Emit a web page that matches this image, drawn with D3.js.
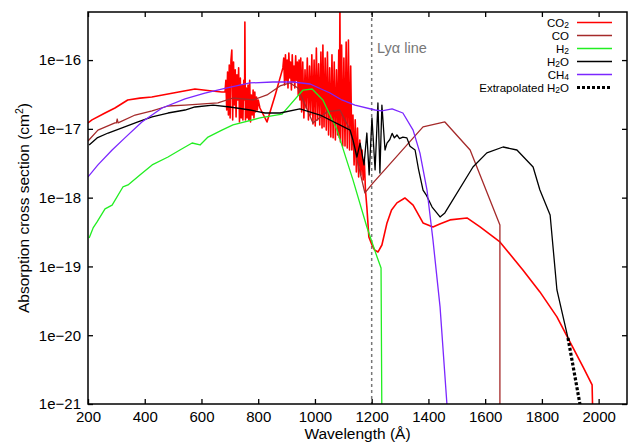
<!DOCTYPE html>
<html><head><meta charset="utf-8">
<script src="https://cdn.jsdelivr.net/npm/d3@7"></script>
<style>
body{margin:0;background:#fff}
svg{display:block}
text{font-family:"Liberation Sans",Arial,Helvetica,sans-serif}
</style>
</head><body>
<svg id="chart" width="630" height="442"></svg>
<script>
// ---------- data ----------
const xTicks = [200,400,600,800,1000,1200,1400,1600,1800,2000];
const yTicks = [1e-16,1e-17,1e-18,1e-19,1e-20,1e-21];
const yTickLabels = ["1e\u221216","1e\u221217","1e\u221218","1e\u221219","1e\u221220","1e\u221221"];

const co2Wl = [200,214,260,295,340,383,425,496,577,637,672,
  683,686,689,692,695,698,701,704,707,710,713,716,719,722,725,728,731,734,737,740,743,746,749,752,753,755,758,761,764,767,770,773,776,779,782,785,788,791,794,797,800,806,831,860,
  887,890,893,896,899,902,905,908,911,914,917,920,923,926,929,932,935,938,941,944,947,950,
  953,957,961,965,969,973,977,981,985,989,993,997,1001,1005,1009,1013,1017,1021,1025,1028,1032,1036,1040,1044,
  1048,1052,1056,1060,1064,1068,1072,1076,1080,1084,1086,1088,1090,1094,1098,1102,1106,1110,1114,1118,1122,1126,1130,
  1134,1138,1142,1146,1150,1154,1158,1162,1166,1170,1174,1178,1183,1190,1201,1210,1222,1236,1254,1270,1289,1317,1346,1381,1416,1440,1476,1536,1582,1652,1733,1793,1853,1892,1945,1977,1980];
const co2Val = [1.22e-17,1.35e-17,1.7e-17,2.01e-17,2.63e-17,2.8e-17,2.91e-17,3.3e-17,3.8e-17,3.55e-17,3.43e-17,
  3.43e-17,5.1e-17,1.88e-17,6.7e-17,1.59e-17,8.5e-17,1.44e-17,1.0e-16,1.4e-16,1.35e-17,9.4e-17,2.22e-17,7.2e-17,1.49e-17,6.1e-17,2.63e-17,7.7e-17,1.26e-17,5.5e-17,1.44e-17,4.35e-17,1.35e-17,5.1e-17,2.63e-17,3.58e-16,1.35e-17,3.93e-17,1.44e-17,4.35e-17,1.35e-17,5.1e-17,1.26e-17,3.11e-17,1.59e-17,3.67e-17,1.44e-17,3.43e-17,1.76e-17,2.91e-17,1.88e-17,2.63e-17,2.01e-17,1.26e-17,3.11e-17,
  7.7e-17,1.07e-16,4.35e-17,1.19e-16,5.1e-17,1.0e-16,3.93e-17,1.27e-16,5.5e-17,9.4e-17,3.67e-17,1.19e-16,4.8e-17,8.2e-17,3.93e-17,1.15e-16,5.1e-17,9.4e-17,3.11e-17,1.0e-16,2.63e-17,1.07e-16,
  1.76e-17,9.4e-17,1.44e-17,7.2e-17,2.01e-17,1.07e-16,1.35e-17,8.2e-17,1.59e-17,1.19e-16,1.18e-17,1.0e-16,1.1e-17,1.5e-16,1.35e-17,8.8e-17,1.14e-17,1.31e-16,1.03e-17,1.66e-16,1.07e-17,1.07e-16,9.6e-18,1.31e-16,
  8.15e-18,7.7e-17,7.6e-18,1.19e-16,7.4e-18,9.4e-17,6.9e-18,7.2e-17,8.15e-18,1.4e-16,7.4e-18,6.0e-16,6.45e-18,1.66e-16,5.64e-18,1.07e-16,5.64e-18,1.83e-16,5.27e-18,1.96e-16,4.93e-18,8.2e-17,4.93e-18,
  1.59e-17,2.99e-18,1.35e-17,2.36e-18,1.03e-17,2.0e-18,6.9e-18,2.14e-18,4.93e-18,1.81e-18,3.53e-18,1.29e-18,7.3e-19,2.69e-19,2.05e-19,1.74e-19,1.62e-19,2.05e-19,4.29e-19,6.6e-19,8.4e-19,9.9e-19,7.8e-19,4.29e-19,3.75e-19,4.15e-19,4.75e-19,5.07e-19,3.75e-19,2.27e-19,8.9e-20,4.26e-20,1.85e-20,9.1e-21,3.46e-21,1.89e-21,5e-22];

const coWl  = [200,235,295,300,303,306,366,426,482,542,658,711,782,831,877,912,940,993,1042,1088,1124,1176,1205,1381,1458,1547,1652,1652];
const coVal = [6.67e-18,9.6e-18,1.22e-17,1.22e-17,1.39e-17,1.22e-17,1.59e-17,1.82e-17,2.15e-17,2.22e-17,2.38e-17,2.81e-17,2.63e-17,3.11e-17,4.2e-17,4.65e-17,3.93e-17,1.22e-17,1.76e-17,1.88e-17,9.6e-18,1.17e-18,1.64e-18,1.07e-17,1.26e-17,4.93e-18,4.0e-19,5e-22];

const h2Wl  = [204,218,232,260,285,323,341,383,426,482,524,567,595,623,672,711,806,884,958,990,1028,1078,1134,1183,1219,1233,1236];
const h2Val = [2.6e-19,3.63e-19,4.44e-19,6.86e-19,7.8e-19,1.43e-18,1.53e-18,2.14e-18,2.99e-18,3.9e-18,4.93e-18,6.23e-18,5.83e-18,7.6e-18,9.6e-18,1.14e-17,1.44e-17,1.64e-17,3.67e-17,3.8e-17,2.63e-17,9.6e-18,1.81e-18,3.75e-19,1.37e-19,9.5e-20,5e-22];

const h2oWl  = [204,232,271,320,376,426,482,542,577,641,700,771,824,877,947,1018,1124,1134,1148,1159,1173,1183,1191,1201,1212,1222,1229,1236,1247,1254,1264,1272,1280,1289,1298,1310,1324,1335,1353,1365,1381,1392,1413,1441,1458,1557,1606,1663,1712,1769,1793,1829,1853,1892];
const h2oVal = [5.83e-18,7.38e-18,8.7e-18,1.03e-17,1.26e-17,1.49e-17,1.7e-17,1.88e-17,2.08e-17,2.22e-17,2.08e-17,1.88e-17,1.7e-17,1.7e-17,1.95e-17,1.59e-17,9.6e-18,6.9e-18,3.9e-18,6.2e-18,3.0e-18,8.7e-18,2.14e-18,1.44e-17,2.53e-18,2.38e-17,2.28e-18,2.22e-17,4.93e-18,6.2e-18,7.0e-18,8.6e-18,7.4e-18,8.15e-18,7.2e-18,7.6e-18,7.4e-18,5.6e-18,4.93e-18,2.6e-18,1.29e-18,1.1e-18,7.3e-19,5.24e-19,6.0e-19,2.79e-18,4.47e-18,5.45e-18,4.93e-18,2.79e-18,1.29e-18,5.6e-19,4.55e-20,9.1e-21];

const ch4Wl  = [200,235,285,330,390,461,542,612,690,771,852,923,983,1053,1095,1141,1212,1236,1272,1310,1346,1370,1395,1416,1441,1466];
const ch4Val = [2.0e-18,3.0e-18,4.93e-18,7.4e-18,1.26e-17,2.01e-17,2.72e-17,3.32e-17,3.93e-17,4.65e-17,4.8e-17,4.8e-17,4.49e-17,3.32e-17,2.63e-17,2.22e-17,1.88e-17,1.82e-17,1.95e-17,1.7e-17,9.6e-18,4.47e-18,1.29e-18,2.43e-19,2.58e-20,9e-22];

const extWl  = [1892,1936];
const extVal = [9.1e-21,9e-22];

const lyaWl = 1200;

// ---------- drawing ----------
const svg = d3.select("#chart");
const L=88, R=627, T=12, B=404;
const x = d3.scaleLinear().domain([200,2100]).range([L,R]);
const y = d3.scaleLog().domain([1e-21,5e-16]).range([B,T]);

svg.append("defs").append("clipPath").attr("id","clip")
  .append("rect").attr("x",L).attr("y",T).attr("width",R-L).attr("height",B-T);

const zip = (a,b)=>a.map((v,i)=>[v,b[i]]);
const line = d3.line().x(d=>x(d[0])).y(d=>y(d[1]));
const g = svg.append("g").attr("clip-path","url(#clip)");

// Lyman alpha line
g.append("line").attr("x1",x(lyaWl)).attr("x2",x(lyaWl)).attr("y1",T).attr("y2",B)
  .attr("stroke","#777").attr("stroke-width",1.5).attr("stroke-dasharray","3,3");

const styles = [
  {wl:co2Wl,val:co2Val,color:"#ff0000",w:1.6},
  {wl:coWl,val:coVal,color:"#a52a2a",w:1.3},
  {wl:h2Wl,val:h2Val,color:"#22ee22",w:1.3},
  {wl:h2oWl,val:h2oVal,color:"#000000",w:1.3},
  {wl:ch4Wl,val:ch4Val,color:"#7b27ff",w:1.3}
];
styles.forEach(s=>{
  g.append("path").datum(zip(s.wl,s.val)).attr("d",line)
    .attr("fill","none").attr("stroke",s.color).attr("stroke-width",s.w)
    .attr("stroke-linejoin","round");
});
g.append("path").datum(zip(extWl,extVal)).attr("d",line)
  .attr("fill","none").attr("stroke","#000").attr("stroke-width",3.2)
  .attr("stroke-dasharray","3,2");

// axes
const fs = "15px";
const ax = svg.append("g").attr("transform",`translate(0,${B})`)
  .call(d3.axisBottom(x).tickValues(xTicks).tickSize(-5).tickPadding(7).tickFormat(d3.format("d")));
const ay = svg.append("g").attr("transform",`translate(${L},0)`)
  .call(d3.axisLeft(y).tickValues(yTicks).tickSize(-5).tickPadding(7).tickFormat((d,i)=>yTickLabels[i]));
const axT = svg.append("g").attr("transform",`translate(0,${T})`)
  .call(d3.axisTop(x).tickValues(xTicks).tickSize(-5).tickFormat(""));
const ayR = svg.append("g").attr("transform",`translate(${R},0)`)
  .call(d3.axisRight(y).tickValues(yTicks).tickSize(-5).tickFormat(""));
[ax,ay,axT,ayR].forEach(a=>{
  a.select(".domain").remove();
  a.selectAll("line").attr("stroke","#000").attr("stroke-width",1.3);
  a.selectAll("text").attr("font-size",fs).attr("fill","#000")
    .attr("font-family","'Liberation Sans',Arial,sans-serif");
});
svg.append("rect").attr("x",L).attr("y",T).attr("width",R-L).attr("height",B-T)
  .attr("fill","none").attr("stroke","#000").attr("stroke-width",1.5);

// Ly alpha label
svg.append("text").attr("x",377).attr("y",53).attr("font-size","14.5px").attr("fill","#777")
  .text("Ly\u03b1 line");

// axis titles
svg.append("text").attr("x",(L+R)/2).attr("y",439).attr("text-anchor","middle")
  .attr("font-size","15.5px").text("Wavelength (\u00c5)");
const yt = svg.append("text").attr("transform",`translate(29,${(T+B)/2}) rotate(-90)`)
  .attr("text-anchor","middle").attr("font-size","15.5px");
yt.append("tspan").text("Absorption cross section (cm");
yt.append("tspan").attr("baseline-shift","super").attr("font-size","10.5px").text("2");
yt.append("tspan").text(")");

// legend
const legendRows = [
  {base:"CO", sub:"2", after:"", color:"#ff0000", dash:null, w:1.6},
  {base:"CO", sub:"", after:"", color:"#a52a2a", dash:null, w:1.3},
  {base:"H", sub:"2", after:"", color:"#22ee22", dash:null, w:1.3},
  {base:"H", sub:"2", after:"O", color:"#000000", dash:null, w:1.3},
  {base:"CH", sub:"4", after:"", color:"#7b27ff", dash:null, w:1.3},
  {base:"Extrapolated H", sub:"2", after:"O", color:"#000000", dash:"3,2", w:3.2}
];
legendRows.forEach((r,i)=>{
  const ly = 22.5 + i*13;
  const t = svg.append("text").attr("x",569).attr("y",ly+4).attr("text-anchor","end")
    .attr("font-size","11.5px");
  t.append("tspan").text(r.base);
  if(r.sub) t.append("tspan").attr("dy","1").attr("font-size","8.5px").text(r.sub);
  if(r.after) t.append("tspan").attr("dy","-1").text(r.after);
  svg.append("line").attr("x1",577).attr("x2",612).attr("y1",ly).attr("y2",ly)
    .attr("stroke",r.color).attr("stroke-width",r.w)
    .attr("stroke-dasharray",r.dash);
});
</script>
</body></html>
